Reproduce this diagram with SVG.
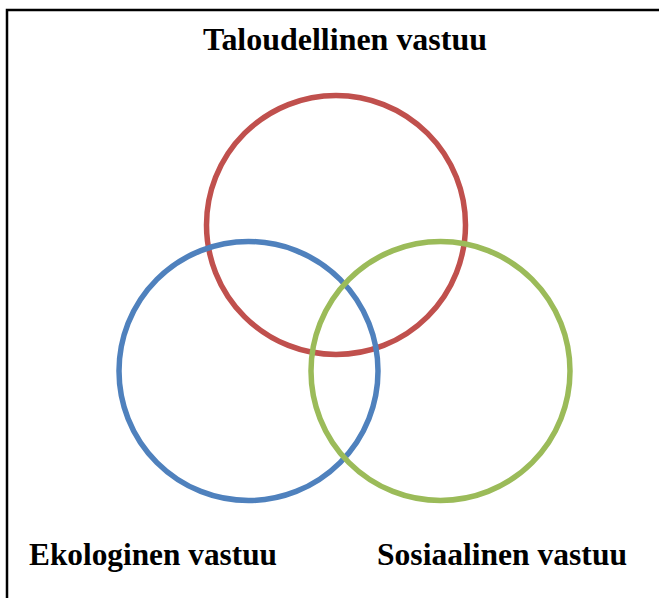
<svg xmlns="http://www.w3.org/2000/svg" width="659" height="598" viewBox="0 0 659 598">
<style>
.lbl{font-family:"Liberation Serif","Times New Roman",serif;font-weight:bold;font-size:32px;fill:#000}
.ring{fill:none;stroke-width:5.5}
</style>
<rect width="659" height="598" fill="#fff"/>
<path d="M7,598 V10 H659" fill="none" stroke="#000" stroke-width="2.5"/>
<g id="connectors"></g>
<g id="taloudellinen">
<circle class="ring" cx="336" cy="225" r="129.5" stroke="#C0504D"/>
<text class="lbl" x="203" y="50" textLength="284" lengthAdjust="spacingAndGlyphs">Taloudellinen vastuu</text>
</g>
<g id="ekologinen">
<circle class="ring" cx="248.5" cy="371" r="129.5" stroke="#4F81BD"/>
<text class="lbl" x="29" y="565" textLength="248" lengthAdjust="spacingAndGlyphs">Ekologinen vastuu</text>
</g>
<g id="sosiaalinen">
<circle class="ring" cx="440.5" cy="371" r="129.5" stroke="#9BBB59"/>
<text class="lbl" x="377" y="565" textLength="250" lengthAdjust="spacingAndGlyphs">Sosiaalinen vastuu</text>
</g>
</svg>
